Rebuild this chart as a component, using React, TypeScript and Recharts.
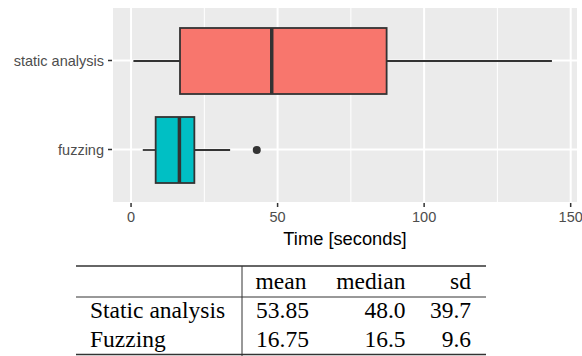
import React from "react";
import {
  ComposedChart,
  Bar,
  XAxis,
  YAxis,
  CartesianGrid,
} from "recharts";

// boxplot stats
const groups = ["static analysis", "fuzzing"];
const whiskerLow = [0.8, 4.0];
const q1 = [16.7, 8.4];
const median = [48.0, 16.5];
const q3 = [87.2, 21.6];
const whiskerHigh = [143.6, 33.8];
const outliers: number[][] = [[], [42.9]];

const majorTicks = [0, 50, 100, 150];
const minorTicks = [25, 75, 125];

// summary table
const tableHeader = ["mean", "median", "sd"];
const tableRows = ["Static analysis", "Fuzzing"];
const tableMean = ["53.85", "16.75"];
const tableMedian = ["48.0", "16.5"];
const tableSd = ["39.7", "9.6"];

const fills = ["#F8766D", "#00BFC4"];
const outline = "#333333";
const sans = "'Liberation Sans', Arial, sans-serif";
const serif = "'Liberation Serif', 'Times New Roman', serif";
const xDomain = [-6.5, 152.5];

const data = groups.map((g, i) => ({
  group: g,
  range: [whiskerLow[i], whiskerHigh[i]],
  q1: q1[i],
  median: median[i],
  q3: q3[i],
  outliers: outliers[i],
}));

function BoxShape(props: any) {
  const { x, y, width, height, payload, index } = props;
  const [lo, hi] = payload.range;
  const px = (v: number) => x + ((v - lo) / (hi - lo)) * width;
  const cy = y + height / 2;
  return (
    <g>
      <line x1={px(lo)} x2={px(payload.q1)} y1={cy} y2={cy} stroke={outline} strokeWidth={1.8} />
      <line x1={px(payload.q3)} x2={px(hi)} y1={cy} y2={cy} stroke={outline} strokeWidth={1.8} />
      <rect
        x={px(payload.q1)}
        y={y}
        width={px(payload.q3) - px(payload.q1)}
        height={height}
        fill={fills[index]}
        stroke={outline}
        strokeWidth={1.8}
      />
      <line
        x1={px(payload.median)}
        x2={px(payload.median)}
        y1={y}
        y2={y + height}
        stroke={outline}
        strokeWidth={3.5}
      />
      {payload.outliers.map((o: number, k: number) => (
        <circle key={k} cx={px(o)} cy={cy} r={4} fill={outline} />
      ))}
    </g>
  );
}

function SummaryTable() {
  const rowBase = [318, 347];
  return (
    <svg
      width={582}
      height={356}
      style={{ position: "absolute", left: 0, top: 0, pointerEvents: "none" }}
      fontFamily={serif}
      fontSize={23.5}
    >
      <line x1={76} x2={486} y1={266} y2={266} stroke="#333" strokeWidth={1.3} />
      <line x1={76} x2={486} y1={297} y2={297} stroke="#333" strokeWidth={1} />
      <line x1={76} x2={486} y1={354.5} y2={354.5} stroke="#333" strokeWidth={1.3} />
      <line x1={242} x2={242} y1={266} y2={356} stroke="#333" strokeWidth={1} />
      <text x={255.5} y={288.5}>{tableHeader[0]}</text>
      <text x={405.5} y={288.5} textAnchor="end">{tableHeader[1]}</text>
      <text x={471} y={288.5} textAnchor="end">{tableHeader[2]}</text>
      {tableRows.map((r, i) => (
        <g key={r}>
          <text x={90} y={rowBase[i]}>{r}</text>
          <text x={256} y={rowBase[i]}>{tableMean[i]}</text>
          <text x={405.5} y={rowBase[i]} textAnchor="end">{tableMedian[i]}</text>
          <text x={471} y={rowBase[i]} textAnchor="end">{tableSd[i]}</text>
        </g>
      ))}
    </svg>
  );
}

export default function App() {
  const tickStyle = { fontSize: 14.5, fill: "#4D4D4D", fontFamily: sans };
  return (
    <div style={{ position: "absolute", left: 0, top: 0, width: 582, height: 356, background: "#fff" }}>
      <ComposedChart
        width={582}
        height={255}
        layout="vertical"
        data={data}
        margin={{ top: 7, right: 4, bottom: 0, left: 0 }}
      >
        <CartesianGrid fill="#EBEBEB" stroke="#FFFFFF" strokeWidth={2} />
        <CartesianGrid xAxisId="minor" horizontal={false} stroke="#FFFFFF" strokeWidth={1} />
        <XAxis
          type="number"
          domain={xDomain}
          ticks={majorTicks}
          allowDataOverflow
          axisLine={false}
          tickLine={{ stroke: outline, strokeWidth: 1.5 }}
          tickSize={4}
          tickMargin={5}
          tick={tickStyle}
          height={52}
          label={{
            value: "Time [seconds]",
            position: "insideBottom",
            offset: 10,
            style: { fontSize: 18.3, fill: "#000", fontFamily: sans },
          }}
        />
        <XAxis xAxisId="minor" type="number" domain={xDomain} ticks={minorTicks} allowDataOverflow hide />
        <YAxis
          type="category"
          dataKey="group"
          width={112}
          padding={{ top: 9, bottom: 9 }}
          axisLine={false}
          tickLine={{ stroke: outline, strokeWidth: 1.5 }}
          tickSize={4}
          tickMargin={4}
          tick={tickStyle}
        />
        <Bar dataKey="range" barSize={66} shape={BoxShape} isAnimationActive={false} />
      </ComposedChart>
      <SummaryTable />
    </div>
  );
}
